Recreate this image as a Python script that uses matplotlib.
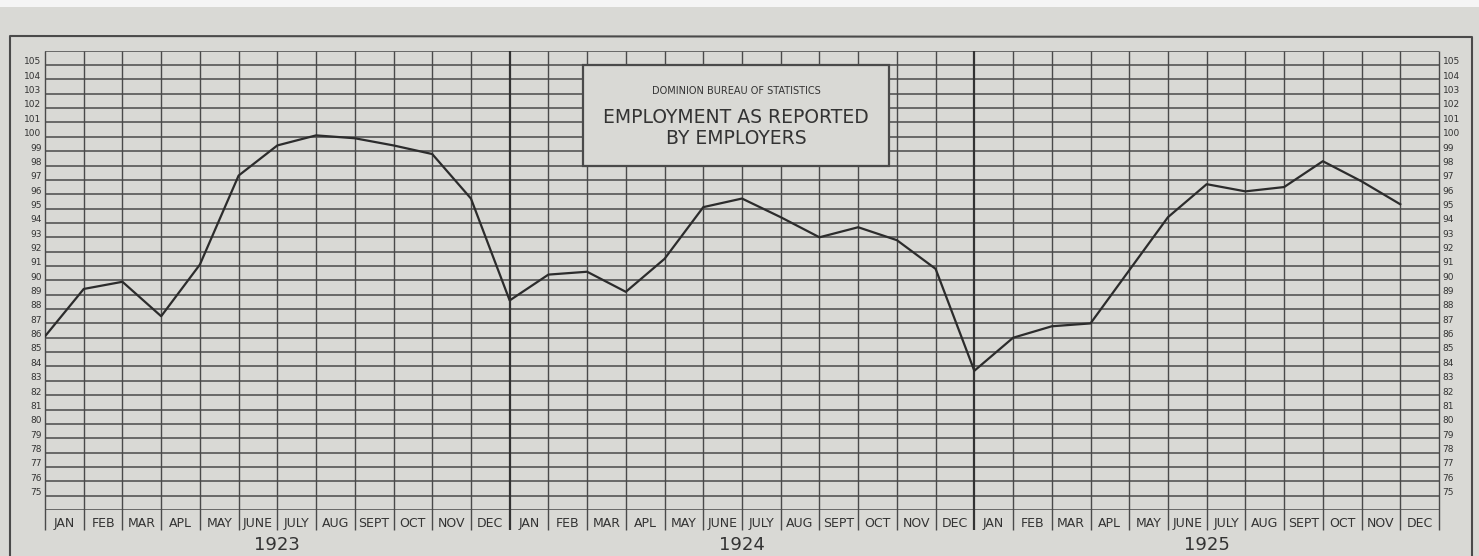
import matplotlib
matplotlib.use("Agg")
import matplotlib.pyplot as plt
import matplotlib.transforms as mtransforms
from matplotlib.lines import Line2D
from matplotlib.patches import Rectangle

plt.rcParams["font.family"] = ["Liberation Sans Narrow", "DejaVu Sans"]

# employment index, reported at the start of each month
months = ["JAN", "FEB", "MAR", "APL", "MAY", "JUNE", "JULY", "AUG", "SEPT", "OCT", "NOV", "DEC"]
years = ["1923", "1924", "1925"]
index_1923 = [86.1, 89.4, 89.9, 87.5, 91.1, 97.3, 99.4, 100.1, 99.9, 99.4, 98.8, 95.7]
index_1924 = [88.6, 90.4, 90.6, 89.2, 91.5, 95.1, 95.7, 94.4, 93.0, 93.7, 92.8, 90.8]
index_1925 = [83.7, 86.0, 86.8, 87.0, 90.7, 94.4, 96.7, 96.2, 96.5, 98.3, 96.9, 95.3]
y_labels = list(range(75, 106))

values = index_1923 + index_1924 + index_1925
n_months = len(values)

paper = "#d9d9d5"
ink = "#4a4a4a"

W, H = 1479, 556
fig = plt.figure(figsize=(W / 100, H / 100), dpi=100, facecolor=paper)
ax = fig.add_axes([45 / W, 46 / H, 1394 / W, 459.3 / H])
ax.set_facecolor(paper)
ax.set_xlim(0, n_months)
ax.set_ylim(74, 106)
for s in ax.spines.values():
    s.set_visible(False)

# ruled paper
ax.hlines(range(74, 107), 0, n_months, color=ink, lw=1.1, zorder=1)
cols = [c for c in range(n_months + 1) if c not in (12, 24)]
ax.vlines(cols, 72.6, 106, color=ink, lw=1.0, zorder=1, clip_on=False)
ax.vlines([12, 24], 72.6, 106, color="#333333", lw=1.6, zorder=1, clip_on=False)

ax.plot(range(n_months), values, color="#2c2c2c", lw=1.6, zorder=4)

# month labels in the columns
ax.set_xticks([i + 0.5 for i in range(n_months)], months * len(years))
ax.tick_params(axis="x", length=0, pad=5, labelsize=9, colors="#333333")

# scale on both sides, lettered just above each line
ax.set_yticks(y_labels)
ax.tick_params(axis="y", length=0, pad=2.5, labelsize=6.5, colors="#333333",
               labelleft=True, labelright=True)
up = mtransforms.ScaledTranslation(0, 3 / 72, fig.dpi_scale_trans)
for t in ax.yaxis.get_major_ticks():
    t.label1.set_transform(t.label1.get_transform() + up)
    t.label2.set_transform(t.label2.get_transform() + up)

for k, yr in enumerate(years):
    ax.text(12 * k + 6, -0.076, yr, transform=ax.get_xaxis_transform(),
            ha="center", va="center", fontsize=13, color="#333333")

# title box
ax.add_patch(Rectangle((13.9, 98.0), 7.9, 7.0, facecolor=paper, edgecolor=ink,
                       lw=1.6, zorder=3))
ax.text(17.85, 103.2, "DOMINION BUREAU OF STATISTICS", ha="center", va="center",
        fontsize=7, color="#333333", zorder=5)
ax.text(17.85, 101.35, "EMPLOYMENT AS REPORTED", ha="center", va="center",
        fontsize=13.5, color="#333333", zorder=5)
ax.text(17.85, 99.9, "BY EMPLOYERS", ha="center", va="center",
        fontsize=13.5, color="#333333", zorder=5)

# outer frame of the sheet and the light strip above it
fig.add_artist(Line2D([10 / W, 10 / W, 1472 / W, 1472 / W],
                      [0, 1 - 36 / H, 1 - 37 / H, 0], color=ink, lw=1.5))
fig.add_artist(Rectangle((0, 1 - 7 / H), 1, 7 / H, transform=fig.transFigure,
                         facecolor="#f5f5f5", edgecolor="none"))

fig.savefig("out.png", dpi=100, facecolor=paper)
